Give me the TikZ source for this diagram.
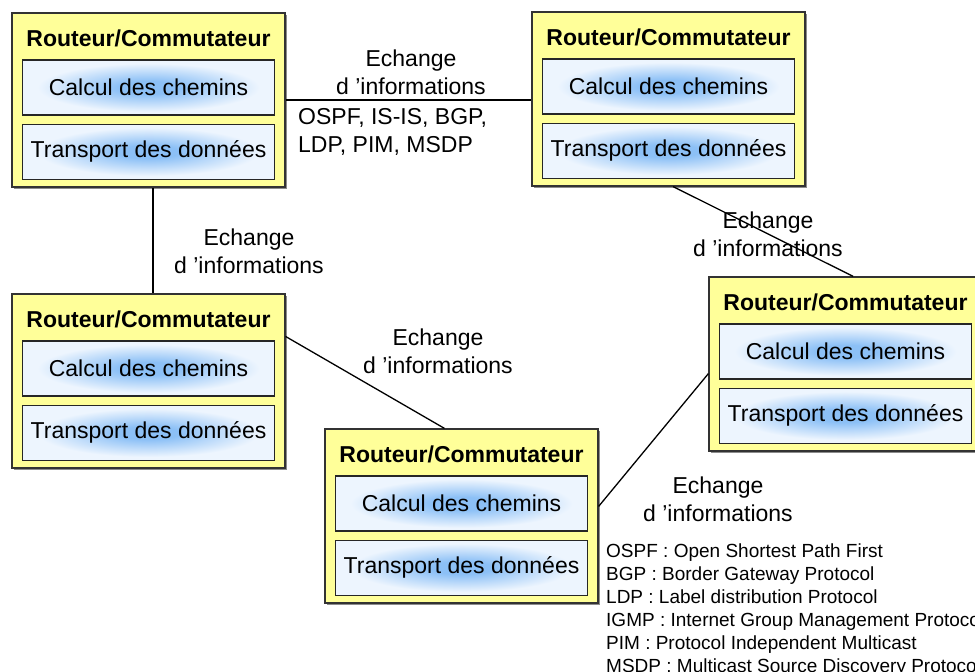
\documentclass[tikz,border=0pt]{standalone}
\usepackage{fontspec}
\setmainfont{Liberation Sans}
\usetikzlibrary{positioning,shadows}
\definecolor{jaune1}{RGB}{255,255,153}
\definecolor{bleufonce}{RGB}{140,192,246}
\definecolor{bleuclair}{RGB}{237,245,254}
\pgfdeclareradialshading{bleuc}{\pgfpoint{0bp}{0bp}}{color(0bp)=(bleufonce); color(6bp)=(bleufonce); color(22bp)=(bleuclair); color(50bp)=(bleuclair)}

\begin{document}
\begin{tikzpicture}
[x=1pt, y=-1pt,
routeur/.style={draw=black!80, line width=1.2pt, fill=jaune1,
minimum width=273pt, minimum height=174pt, inner sep=0,
drop shadow={shadow xshift=2pt, shadow yshift=-2pt, fill=black!45, opacity=1}},
titre/.style ={font=\bfseries\fontsize{23}{28}\selectfont, inner sep=0},
chemin/.style ={draw=black!85, line width=1.2pt, shading=bleuc,
minimum width=252pt, minimum height=55pt, inner sep=0,
font=\fontsize{23}{28}\selectfont},
echange/.style ={align=center, font=\fontsize{23}{28}\selectfont},
legende/.style ={align=left, anchor=west, inner sep=0, font=\fontsize{19}{23}\selectfont},
line/.style ={draw, line width=1.3pt}]
\useasboundingbox (0,0) rectangle (975,672);
\clip (0,0) rectangle (975,672);
% routeurs
\node [routeur]          (r1)    at (148.5, 100)          {};
\node [titre, below=17pt of r1.north]   (r1t)   {Routeur/Commutateur};
\node [chemin, below=47pt of r1.north]  (r1c)   {Calcul des chemins};
\node [chemin, below=8pt of r1c]        (r1d)   {Transport des données};

\node [routeur]          (r2)    at (668.5, 99)           {};
\node [titre, below=17pt of r2.north]   (r2t)   {Routeur/Commutateur};
\node [chemin, below=47pt of r2.north]  (r2c)   {Calcul des chemins};
\node [chemin, below=8pt of r2c]        (r2d)   {Transport des données};

\node [routeur]          (r3)    at (148.5, 381)          {};
\node [titre, below=17pt of r3.north]   (r3t)   {Routeur/Commutateur};
\node [chemin, below=47pt of r3.north]  (r3c)   {Calcul des chemins};
\node [chemin, below=8pt of r3c]        (r3d)   {Transport des données};

\node [routeur]          (r4)    at (845.5, 364)          {};
\node [titre, below=17pt of r4.north]   (r4t)   {Routeur/Commutateur};
\node [chemin, below=47pt of r4.north]  (r4c)   {Calcul des chemins};
\node [chemin, below=8pt of r4c]        (r4d)   {Transport des données};

\node [routeur]          (r5)    at (461.5, 516)          {};
\node [titre, below=17pt of r5.north]   (r5t)   {Routeur/Commutateur};
\node [chemin, below=47pt of r5.north]  (r5c)   {Calcul des chemins};
\node [chemin, below=8pt of r5c]        (r5d)   {Transport des données};

% liens
\draw [line] (r1.east) -- (r1.east -| r2.west);
\draw [line] (r1.-87) -- (r3.87);
\draw [line] (r2.-87) -- (r4.85);
\draw [line] (r3.18) -- (r5.101);
\draw [line] (r5.4) -- (r4.184);

\node [echange]          (e12)   at (411, 72)             {Echange\\d ’informations};
\node [echange]          (e13)   at (249, 251)            {Echange\\d ’informations};
\node [echange]          (e24)   at (768, 234)            {Echange\\d ’informations};
\node [echange]          (e35)   at (438, 351)            {Echange\\d ’informations};
\node [echange]          (e54)   at (718, 499)            {Echange\\d ’informations};

\node [echange, align=left, anchor=west, inner sep=0] (proto) at (298, 131.5) {OSPF, IS-IS, BGP,\\LDP, PIM, MSDP};

%\node [legende] (leg) at (606, 600) {};
\node [legende]          (leg)   at (606, 610.5)          {OSPF : Open Shortest Path First\\
BGP : Border Gateway Protocol\\
LDP : Label distribution Protocol\\
IGMP : Internet Group Management Protocol\\
PIM : Protocol Independent Multicast\\
MSDP : Multicast Source Discovery Protocol};
\end{tikzpicture}
\end{document}
